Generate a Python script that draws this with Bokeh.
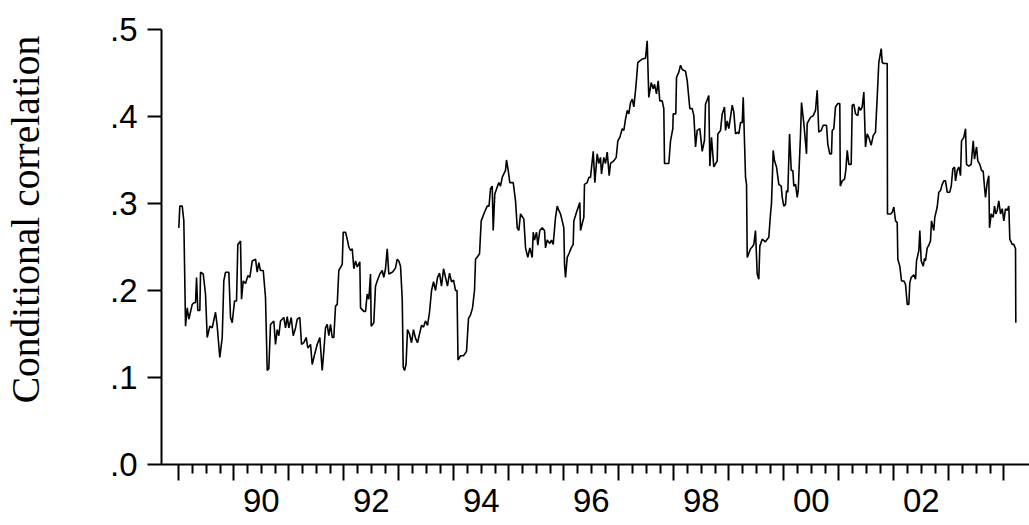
from bokeh.plotting import figure
from bokeh.models import Range1d, FixedTicker, LinearAxis, Label, CustomJSTickFormatter
from bokeh.layouts import row
from bokeh.embed import file_html
from bokeh.resources import INLINE
import math

# ---------------- data (decimal years, conditional correlation) ----------------
years = [
    1989.000, 1989.018, 1989.062, 1989.091, 1989.122, 1989.153, 1989.182, 1989.244, 1989.273, 1989.304,
    1989.322, 1989.345, 1989.382, 1989.395, 1989.444, 1989.485, 1989.516, 1989.564, 1989.607, 1989.667,
    1989.698, 1989.745, 1989.789, 1989.818, 1989.849, 1989.909, 1989.940, 1989.971, 1990.013, 1990.049,
    1990.073, 1990.122, 1990.140, 1990.171, 1990.213, 1990.255, 1990.291, 1990.335, 1990.395, 1990.425,
    1990.455, 1990.485, 1990.535, 1990.576, 1990.607, 1990.636, 1990.667, 1990.727, 1990.758, 1990.789,
    1990.818, 1990.849, 1990.909, 1990.940, 1990.971, 1991.000, 1991.044, 1991.080, 1991.122, 1991.153,
    1991.200, 1991.231, 1991.273, 1991.316, 1991.345, 1991.395, 1991.425, 1991.467, 1991.516, 1991.564,
    1991.607, 1991.636, 1991.667, 1991.698, 1991.727, 1991.758, 1991.789, 1991.818, 1991.849, 1991.880,
    1991.909, 1991.971, 1991.989, 1992.031, 1992.062, 1992.091, 1992.122, 1992.153, 1992.182, 1992.213,
    1992.244, 1992.291, 1992.304, 1992.364, 1992.395, 1992.425, 1992.455, 1992.485, 1992.498, 1992.545,
    1992.576, 1992.607, 1992.655, 1992.698, 1992.727, 1992.758, 1992.789, 1992.818, 1992.880, 1992.909,
    1992.940, 1992.971, 1993.000, 1993.031, 1993.062, 1993.080, 1993.104, 1993.131, 1993.158, 1993.195,
    1993.231, 1993.267, 1993.304, 1993.340, 1993.376, 1993.413, 1993.449, 1993.485, 1993.522, 1993.558,
    1993.595, 1993.631, 1993.667, 1993.704, 1993.740, 1993.776, 1993.813, 1993.849, 1993.885, 1993.922,
    1993.958, 1993.995, 1994.031, 1994.058, 1994.076, 1994.122, 1994.176, 1994.231, 1994.267, 1994.304,
    1994.340, 1994.376, 1994.395, 1994.467, 1994.498, 1994.558, 1994.607, 1994.640, 1994.667, 1994.698,
    1994.716, 1994.745, 1994.789, 1994.818, 1994.849, 1994.880, 1994.909, 1994.940, 1994.958, 1994.989,
    1995.018, 1995.080, 1995.122, 1995.153, 1995.182, 1995.213, 1995.273, 1995.304, 1995.345, 1995.382,
    1995.425, 1995.444, 1995.467, 1995.504, 1995.527, 1995.564, 1995.607, 1995.649, 1995.667, 1995.698,
    1995.745, 1995.776, 1995.807, 1995.849, 1995.880, 1995.909, 1995.940, 1995.971, 1996.000, 1996.013,
    1996.031, 1996.062, 1996.091, 1996.135, 1996.171, 1996.182, 1996.231, 1996.291, 1996.304, 1996.335,
    1996.364, 1996.376, 1996.425, 1996.455, 1996.485, 1996.535, 1996.564, 1996.607, 1996.636, 1996.667,
    1996.685, 1996.727, 1996.758, 1996.789, 1996.825, 1996.849, 1996.909, 1996.953, 1996.982, 1997.018,
    1997.062, 1997.091, 1997.122, 1997.153, 1997.182, 1997.213, 1997.244, 1997.273, 1997.304, 1997.322,
    1997.345, 1997.382, 1997.425, 1997.485, 1997.516, 1997.545, 1997.589, 1997.625, 1997.649, 1997.685,
    1997.716, 1997.745, 1997.789, 1997.818, 1997.831, 1997.909, 1997.940, 1997.982, 1997.989, 1998.036,
    1998.049, 1998.091, 1998.122, 1998.153, 1998.213, 1998.244, 1998.291, 1998.335, 1998.364, 1998.395,
    1998.425, 1998.473, 1998.516, 1998.558, 1998.576, 1998.636, 1998.655, 1998.685, 1998.727, 1998.789,
    1998.800, 1998.849, 1998.880, 1998.922, 1998.940, 1998.971, 1999.000, 1999.062, 1999.091, 1999.122,
    1999.164, 1999.182, 1999.213, 1999.244, 1999.262, 1999.304, 1999.322, 1999.335, 1999.395, 1999.425,
    1999.455, 1999.485, 1999.516, 1999.545, 1999.564, 1999.607, 1999.667, 1999.698, 1999.727, 1999.758,
    1999.776, 1999.807, 1999.831, 1999.867, 1999.909, 1999.953, 1999.971, 2000.000, 2000.031, 2000.049,
    2000.073, 2000.104, 2000.135, 2000.164, 2000.182, 2000.213, 2000.244, 2000.262, 2000.304, 2000.322,
    2000.364, 2000.413, 2000.425, 2000.485, 2000.535, 2000.576, 2000.607, 2000.636, 2000.680, 2000.716,
    2000.776, 2000.800, 2000.836, 2000.867, 2000.880, 2000.909, 2000.940, 2000.982, 2001.018, 2001.027,
    2001.062, 2001.104, 2001.127, 2001.153, 2001.182, 2001.225, 2001.244, 2001.273, 2001.304, 2001.345,
    2001.364, 2001.395, 2001.425, 2001.455, 2001.485, 2001.516, 2001.545, 2001.589, 2001.625, 2001.667,
    2001.698, 2001.727, 2001.771, 2001.789, 2001.818, 2001.880, 2001.885, 2001.940, 2001.971, 2002.000,
    2002.031, 2002.062, 2002.073, 2002.109, 2002.140, 2002.182, 2002.213, 2002.244, 2002.273, 2002.291,
    2002.316, 2002.364, 2002.395, 2002.413, 2002.455, 2002.473, 2002.498, 2002.535, 2002.558, 2002.576,
    2002.607, 2002.636, 2002.667, 2002.685, 2002.727, 2002.745, 2002.789, 2002.818, 2002.849, 2002.880,
    2002.909, 2002.940, 2002.971, 2003.018, 2003.044, 2003.073, 2003.104, 2003.122, 2003.153, 2003.182,
    2003.213, 2003.231, 2003.273, 2003.304, 2003.322, 2003.364, 2003.407, 2003.444, 2003.467, 2003.504,
    2003.527, 2003.564, 2003.595, 2003.625, 2003.649, 2003.667, 2003.698, 2003.727, 2003.740, 2003.771,
    2003.807, 2003.831, 2003.855, 2003.880, 2003.909, 2003.940, 2003.971, 2004.000, 2004.031, 2004.062,
    2004.091, 2004.109, 2004.153, 2004.182, 2004.213, 2004.218,
]

corr = [
    0.272, 0.297, 0.297, 0.280, 0.159, 0.180, 0.167, 0.184, 0.186, 0.186,
    0.215, 0.177, 0.177, 0.221, 0.219, 0.196, 0.146, 0.159, 0.157, 0.175,
    0.159, 0.123, 0.146, 0.211, 0.221, 0.221, 0.169, 0.163, 0.188, 0.188,
    0.253, 0.257, 0.190, 0.211, 0.208, 0.217, 0.215, 0.234, 0.236, 0.221,
    0.232, 0.223, 0.223, 0.192, 0.108, 0.110, 0.161, 0.165, 0.138, 0.155,
    0.148, 0.165, 0.169, 0.157, 0.170, 0.157, 0.169, 0.148, 0.157, 0.167,
    0.169, 0.138, 0.140, 0.146, 0.134, 0.138, 0.115, 0.126, 0.138, 0.146,
    0.108, 0.130, 0.157, 0.161, 0.148, 0.161, 0.146, 0.146, 0.182, 0.184,
    0.223, 0.230, 0.267, 0.267, 0.259, 0.250, 0.246, 0.248, 0.225, 0.234,
    0.227, 0.233, 0.180, 0.176, 0.176, 0.196, 0.190, 0.219, 0.159, 0.163,
    0.205, 0.211, 0.219, 0.223, 0.215, 0.225, 0.248, 0.219, 0.221, 0.223,
    0.226, 0.236, 0.234, 0.228, 0.190, 0.112, 0.108, 0.115, 0.155, 0.150,
    0.140, 0.155, 0.145, 0.140, 0.150, 0.160, 0.158, 0.165, 0.160, 0.175,
    0.200, 0.210, 0.200, 0.215, 0.220, 0.205, 0.225, 0.215, 0.205, 0.220,
    0.210, 0.212, 0.200, 0.200, 0.120, 0.125, 0.125, 0.130, 0.168, 0.172,
    0.180, 0.200, 0.236, 0.242, 0.280, 0.290, 0.297, 0.297, 0.317, 0.320,
    0.269, 0.311, 0.319, 0.324, 0.320, 0.330, 0.334, 0.338, 0.350, 0.338,
    0.324, 0.324, 0.303, 0.272, 0.269, 0.288, 0.282, 0.249, 0.238, 0.249,
    0.238, 0.267, 0.258, 0.267, 0.252, 0.269, 0.272, 0.269, 0.249, 0.258,
    0.254, 0.258, 0.253, 0.284, 0.297, 0.292, 0.288, 0.280, 0.272, 0.230,
    0.215, 0.238, 0.242, 0.249, 0.253, 0.280, 0.290, 0.301, 0.269, 0.277,
    0.284, 0.322, 0.324, 0.330, 0.330, 0.360, 0.324, 0.357, 0.346, 0.353,
    0.334, 0.353, 0.346, 0.359, 0.332, 0.346, 0.349, 0.353, 0.372, 0.376,
    0.386, 0.384, 0.397, 0.407, 0.403, 0.416, 0.420, 0.411, 0.430, 0.443,
    0.462, 0.464, 0.466, 0.467, 0.487, 0.422, 0.439, 0.432, 0.437, 0.426,
    0.441, 0.418, 0.418, 0.409, 0.346, 0.346, 0.372, 0.386, 0.403, 0.403,
    0.445, 0.451, 0.459, 0.454, 0.452, 0.441, 0.409, 0.409, 0.401, 0.365,
    0.384, 0.386, 0.360, 0.373, 0.414, 0.424, 0.343, 0.376, 0.342, 0.349,
    0.380, 0.384, 0.403, 0.411, 0.384, 0.395, 0.386, 0.413, 0.405, 0.380,
    0.382, 0.380, 0.393, 0.393, 0.422, 0.330, 0.322, 0.238, 0.248, 0.250,
    0.253, 0.269, 0.219, 0.213, 0.251, 0.259, 0.256, 0.259, 0.261, 0.288,
    0.300, 0.361, 0.349, 0.342, 0.322, 0.320, 0.307, 0.297, 0.299, 0.315,
    0.313, 0.380, 0.338, 0.338, 0.320, 0.322, 0.307, 0.315, 0.380, 0.416,
    0.392, 0.357, 0.392, 0.399, 0.401, 0.407, 0.430, 0.382, 0.384, 0.390,
    0.390, 0.368, 0.357, 0.357, 0.384, 0.386, 0.411, 0.415, 0.415, 0.320,
    0.326, 0.328, 0.338, 0.361, 0.345, 0.345, 0.413, 0.414, 0.403, 0.401,
    0.411, 0.407, 0.411, 0.428, 0.365, 0.380, 0.376, 0.367, 0.378, 0.382,
    0.422, 0.462, 0.478, 0.462, 0.461, 0.461, 0.288, 0.288, 0.290, 0.296,
    0.280, 0.278, 0.236, 0.228, 0.211, 0.211, 0.207, 0.184, 0.184, 0.209,
    0.215, 0.218, 0.213, 0.234, 0.246, 0.269, 0.234, 0.228, 0.237, 0.234,
    0.249, 0.252, 0.257, 0.280, 0.269, 0.284, 0.296, 0.313, 0.315, 0.322,
    0.326, 0.326, 0.313, 0.313, 0.320, 0.340, 0.342, 0.326, 0.338, 0.342,
    0.332, 0.372, 0.376, 0.386, 0.345, 0.343, 0.345, 0.372, 0.351, 0.365,
    0.349, 0.345, 0.338, 0.337, 0.319, 0.307, 0.324, 0.332, 0.272, 0.288,
    0.284, 0.297, 0.288, 0.292, 0.303, 0.288, 0.294, 0.280, 0.294, 0.292,
    0.297, 0.259, 0.253, 0.253, 0.248, 0.163,
]

# ---------------- axes content ----------------
y_ticks = [0.0, 0.1, 0.2, 0.3, 0.4, 0.5]
y_tick_labels = [".0", ".1", ".2", ".3", ".4", ".5"]
year_ticks = [1989, 1990, 1991, 1992, 1993, 1994, 1995, 1996, 1997, 1998,
              1999, 2000, 2001, 2002, 2003, 2004]
quarter_ticks = [y + q / 4 for y in year_ticks[:-1] for q in (1, 2, 3)]
label_years = [1990.5, 1992.5, 1994.5, 1996.5, 1998.5, 2000.5, 2002.5]
x_tick_labels = ["90", "92", "94", "96", "98", "00", "02"]
y_axis_title = "Conditional correlation"

TICK_FONT = "Liberation Sans"
TITLE_FONT = "Liberation Serif"
TITLE_W = 60
FRAME_W, FRAME_H = 868, 435
BORDER_TOP, BORDER_BOTTOM = 29, 61

# ---------------- narrow panel holding the vertical axis title ----------------
# its frame is aligned with the main frame by the row layout (same top/bottom)
tf = figure(
    title=None,
    frame_width=TITLE_W, frame_height=FRAME_H,
    x_range=Range1d(0, TITLE_W), y_range=Range1d(0, FRAME_H),
    x_axis_type=None, y_axis_type=None,
    min_border_left=0, min_border_right=0,
    min_border_top=BORDER_TOP, min_border_bottom=BORDER_BOTTOM,
    output_backend="svg", toolbar_location=None,
    background_fill_color="white", border_fill_color="white",
)
tf.outline_line_color = None
tf.grid.visible = False
tf.add_layout(Label(
    x=25.5, y=245, x_units="data", y_units="data",
    text=y_axis_title, angle=math.pi / 2,
    text_align="center", text_baseline="middle",
    text_font=TITLE_FONT, text_font_size="39.5px", text_color="black",
))

# ---------------- main chart ----------------
p = figure(
    title=None,
    frame_width=FRAME_W, frame_height=FRAME_H,
    min_border_left=161 - TITLE_W, min_border_right=0,
    min_border_top=BORDER_TOP, min_border_bottom=BORDER_BOTTOM,
    x_range=Range1d(1988.685, 2004.467), y_range=Range1d(0, 0.5),
    output_backend="svg", toolbar_location=None,
    background_fill_color="white", border_fill_color="white",
)
p.outline_line_color = None
p.xgrid.visible = False
p.ygrid.visible = False

p.line(years, corr, line_color="black", line_width=1.6)

# ---- y axis ----
ya = p.yaxis[0]
ya.ticker = FixedTicker(ticks=y_ticks, minor_ticks=[])
ya.formatter = CustomJSTickFormatter(
    args=dict(pos=y_ticks, labs=y_tick_labels),
    code="const i = pos.findIndex(v => Math.abs(v - tick) < 1e-6); return i >= 0 ? labs[i] : '';")
ya.axis_line_width = 2
ya.major_tick_line_width = 2
ya.major_tick_out = 14
ya.major_tick_in = 0
ya.minor_tick_out = 0
ya.minor_tick_in = 0
ya.major_label_text_font = TICK_FONT
ya.major_label_text_font_size = "33px"
ya.major_label_text_color = "black"
ya.major_label_standoff = 10
ya.axis_line_color = "black"
ya.major_tick_line_color = "black"

# ---- x axis: year ticks (long) and quarter ticks (short), no labels ----
xa = p.xaxis[0]
xa.ticker = FixedTicker(ticks=year_ticks, minor_ticks=quarter_ticks)
xa.formatter = CustomJSTickFormatter(code="return '';")
xa.axis_line_width = 2
xa.major_tick_line_width = 2
xa.minor_tick_line_width = 2
xa.major_tick_out = 16
xa.major_tick_in = 0
xa.minor_tick_out = 9
xa.minor_tick_in = 0
xa.major_label_text_font_size = "0px"
xa.major_label_standoff = 0
xa.axis_line_color = "black"
xa.major_tick_line_color = "black"
xa.minor_tick_line_color = "black"

# ---- x axis: labels centred in each labelled year ----
xl = LinearAxis(
    ticker=FixedTicker(ticks=label_years, minor_ticks=[]),
    formatter=CustomJSTickFormatter(
        args=dict(pos=label_years, labs=x_tick_labels),
        code="const i = pos.findIndex(v => Math.abs(v - tick) < 1e-6); return i >= 0 ? labs[i] : '';"),
    axis_line_color=None, major_tick_line_color=None, minor_tick_line_color=None,
    major_tick_out=0, major_tick_in=0, minor_tick_out=0, minor_tick_in=0,
    major_label_text_font=TICK_FONT, major_label_text_font_size="33px",
    major_label_text_color="black", major_label_standoff=8,
)
p.add_layout(xl, "below")

layout = row(tf, p, spacing=0)
open("out.html", "w").write(file_html(layout, INLINE))
